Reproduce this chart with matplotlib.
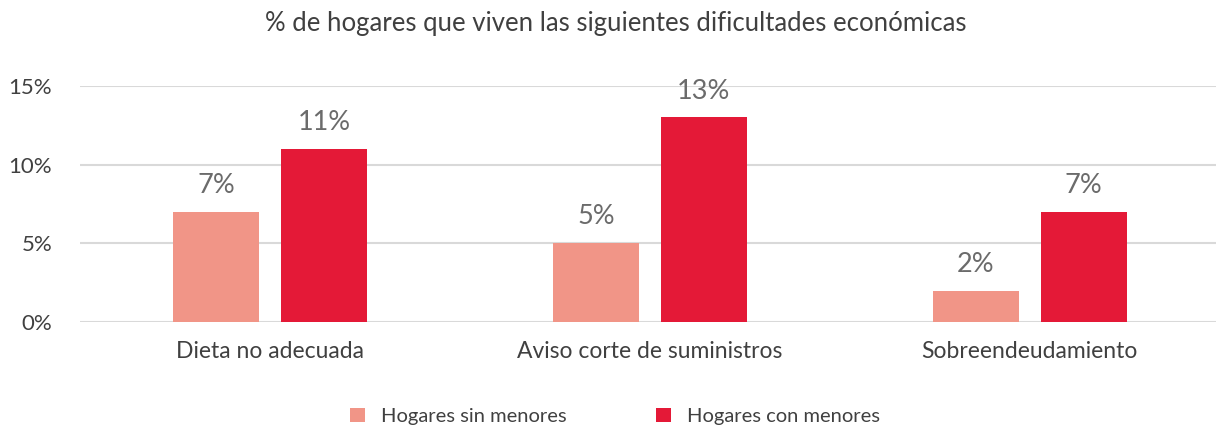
import matplotlib.pyplot as plt
import numpy as np

plt.rcParams['font.family'] = ['Lato', 'DejaVu Sans']

# Datos
categorias = ['Dieta no adecuada', 'Aviso corte de suministros', 'Sobreendeudamiento']
sin_menores = [7, 5, 2]
con_menores = [11, 13, 7]
series = ['Hogares sin menores', 'Hogares con menores']

color_claro = '#F19587'
color_rojo = '#E41937'
gris_texto = '#404040'

fig = plt.figure(figsize=(12.16, 4.28), dpi=100)
ax = fig.add_axes([0.0658, 0.2477, 0.9342, 0.5513])

x = np.arange(len(categorias))
ancho = 0.226
desp = 0.142

b1 = ax.bar(x - desp, sin_menores, ancho, color=color_claro, label=series[0], zorder=3)
b2 = ax.bar(x + desp, con_menores, ancho, color=color_rojo, label=series[1], zorder=3)

for barras in (b1, b2):
    for b in barras:
        ax.annotate(f'{b.get_height():.0f}%', (b.get_x() + b.get_width() / 2, b.get_height()),
                    xytext=(0, 10), textcoords='offset points', ha='center', va='bottom',
                    fontsize=19.5, color='#6b6b6b')

ax.set_xlim(-0.5, 2.49)
ax.set_ylim(0, 15)
ax.set_yticks([0, 5, 10, 15])
ax.set_yticklabels([f'{v}%' for v in [0, 5, 10, 15]], fontsize=16, color=gris_texto)
ax.set_xticks(x)
ax.set_xticklabels(categorias, fontsize=16.5, color=gris_texto)
ax.tick_params(axis='both', length=0)
ax.tick_params(axis='y', pad=20)
ax.tick_params(axis='x', pad=14)
ax.yaxis.grid(True, color='#D9D9D9', linewidth=1.5, zorder=0)
for s in ax.spines.values():
    s.set_visible(False)

fig.text(0.506, 0.945, '% de hogares que viven las siguientes dificultades económicas',
         ha='center', va='center', fontsize=18.5, color=gris_texto)

fig.legend(loc='center', bbox_to_anchor=(0.5058, 0.027), ncol=2, frameon=False,
           fontsize=14.5, handlelength=0.75, handleheight=0.75, handletextpad=0.8,
           columnspacing=4.4, labelcolor=gris_texto)

fig.savefig('out.png', dpi=100)
